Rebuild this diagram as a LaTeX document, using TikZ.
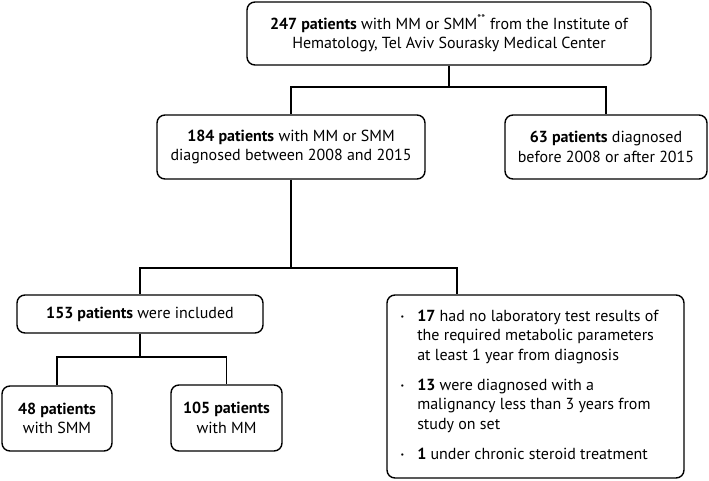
\documentclass[tikz,border=0pt]{standalone}
\usepackage{fontspec}
\setmainfont{PT Sans}
\newcommand{\exbullet}{\raisebox{1.5pt}{\footnotesize\textbullet}}
\begin{document}
\begin{tikzpicture}[x=1pt,y=-1pt,
    flowbox/.style={draw,line width=1.4pt,rounded corners=8pt,align=center,
      inner sep=0pt,font=\fontsize{16}{19.5}\selectfont},
    link/.style={line width=1.4pt}]
  \useasboundingbox (0,0) rectangle (709,481);
  % boxes
  \node[flowbox,minimum width=404pt,minimum height=63pt] (top) at (449,33.5)
    {\textbf{247 patients} with MM or SMM\textsuperscript{**} from the Institute of\\Hematology, Tel Aviv Sourasky Medical Center};
  \node[flowbox,minimum width=268pt,minimum height=64pt] (n184) at (291,147)
    {\textbf{184 patients} with MM or SMM\\diagnosed between 2008 and 2015};
  \node[flowbox,minimum width=202pt,minimum height=64pt] (n63) at (606,147)
    {\textbf{63 patients} diagnosed\\before 2008 or after 2015};
  \node[flowbox,minimum width=246pt,minimum height=38pt] (n153) at (140,314)
    {\textbf{153 patients} were included};
  \node[flowbox,minimum width=297pt,minimum height=183pt] (excl) at (535.5,386.5)
    {\begin{tabular}{@{}l@{\hspace{13pt}}l@{}}
      \exbullet & \textbf{17} had no laboratory test results of\\
                & the required metabolic parameters\\
                & at least 1 year from diagnosis\\[10.5pt]
      \exbullet & \textbf{13} were diagnosed with a\\
                & malignancy less than 3 years from\\
                & study on set\\[10.5pt]
      \exbullet & \textbf{1} under chronic steroid treatment
    \end{tabular}\hspace*{12pt}};
  \node[flowbox,minimum width=110pt,minimum height=65pt] (n48) at (57,418.5)
    {\textbf{48 patients}\\with SMM};
  \node[flowbox,minimum width=111pt,minimum height=66pt] (n105) at (226.5,418)
    {\textbf{105 patients}\\with MM};
  % junctions
  \coordinate (j1) at (449,87);
  \coordinate (j2) at (291,268);
  \coordinate (j3) at (140,357);
  % connectors
  \draw[link] (top.south) -- (j1) -| (n184.north);
  \draw[link] (j1) -| (n63.north);
  \draw[link] (n184.south) -- (j2) -| (n153.north);
  \draw[link] (j2) -| ([xshift=-78.5pt]excl.north);
  \draw[link] (n153.south) -- (j3) -| (n48.north);
  \draw[link] (j3) -| (n105.north);
\end{tikzpicture}
\end{document}
